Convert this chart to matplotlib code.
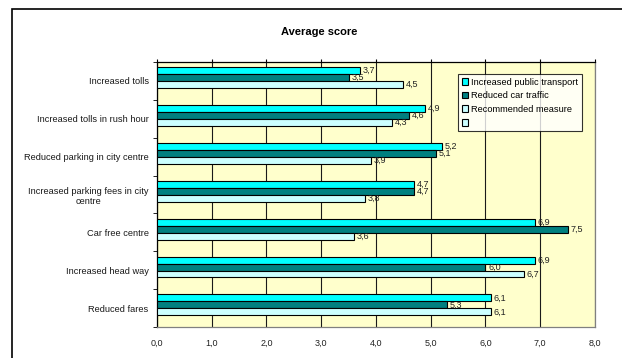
import matplotlib
matplotlib.use('Agg')
import matplotlib.pyplot as plt
from matplotlib.patches import Rectangle
from matplotlib.ticker import FixedLocator
import numpy as np

plt.rcParams['font.family'] = ['Liberation Sans', 'DejaVu Sans']

# data (top to bottom)
categories = ['Increased tolls', 'Increased tolls in rush hour',
              'Reduced parking in city centre',
              'Increased parking fees in city\ncentre',
              'Car free centre', 'Increased head way', 'Reduced fares']
public_transport = [3.7, 4.9, 5.2, 4.7, 6.9, 6.9, 6.1]
car_traffic = [3.5, 4.6, 5.1, 4.7, 7.5, 6.0, 5.3]
recommended = [4.5, 4.3, 3.9, 3.8, 3.6, 6.7, 6.1]
series_names = ['Increased public transport', 'Reduced car traffic',
                'Recommended measure', '']
series_colors = ['#00FFFF', '#008080', '#CCFFFF', '#CCFFFF']
x_ticks = np.arange(0, 9)

fig = plt.figure(figsize=(6.22, 3.58), dpi=100)
ax = fig.add_axes([157 / 622, 31 / 358, 438 / 622, 265 / 358])
ax.set_facecolor('#FFFFCC')

# outer chart frame (runs off the right and bottom edge)
fig.patches.append(Rectangle((12 / 622, -0.05), 1.0, 1 - 9 / 358 + 0.05,
                             transform=fig.transFigure, fill=False,
                             edgecolor='black', linewidth=1.2))

bar_h = 0.184
start = -0.5 + 0.14
pos = np.arange(len(categories))
all_series = [public_transport, car_traffic, recommended, [0] * len(categories)]
handles = []
for k, (vals, name, col) in enumerate(zip(all_series, series_names, series_colors)):
    y = pos + start + (k + 0.5) * bar_h
    if k < 3:
        ax.barh(y, vals, height=bar_h, color=col, edgecolor='black',
                linewidth=0.8, zorder=3)
        for yy, v in zip(y, vals):
            ax.annotate(f'{v:.1f}'.replace('.', ','), (v, yy),
                        xytext=(2, 0), textcoords='offset points',
                        va='center', ha='left', fontsize=6.5, color='#222222',
                        zorder=4)
    handles.append(Rectangle((0, 0), 1, 1, facecolor=col, edgecolor='black',
                             linewidth=0.8))

ax.set_xlim(0, 8)
ax.set_ylim(len(categories) - 0.5, -0.5)
ax.set_xticks(x_ticks)
ax.set_xticklabels([f'{t:.1f}'.replace('.', ',') for t in x_ticks], fontsize=6.5,
                   color='#222222')
ax.tick_params(axis='x', top=True, bottom=False, labeltop=False,
               labelbottom=True, direction='out', length=2.5, pad=6)
ax.xaxis.grid(True, color='#1a1a1a', linewidth=0.8, zorder=1)

ax.set_yticks(pos)
ax.set_yticklabels(categories, fontsize=6.7, color='#1a1a1a',
                   multialignment='center')
ax.tick_params(axis='y', which='major', length=0, pad=6)
ax.yaxis.set_minor_locator(FixedLocator(np.arange(-0.5, len(categories), 1.0)))
ax.tick_params(axis='y', which='minor', length=3, direction='out')

for side in ['top', 'left']:
    ax.spines[side].set_color('black')
    ax.spines[side].set_linewidth(0.9)
for side in ['bottom', 'right']:
    ax.spines[side].set_color('#808080')
    ax.spines[side].set_linewidth(0.9)

leg = ax.legend(handles, series_names, loc='upper left',
                bbox_to_anchor=(0.687, 0.955), fontsize=6.7, frameon=True,
                fancybox=False, handlelength=0.7, handleheight=0.7,
                handletextpad=0.3, borderpad=0.4, labelspacing=0.5,
                borderaxespad=0)
leg.get_frame().set_edgecolor('black')
leg.get_frame().set_linewidth(0.8)
leg.set_zorder(5)

fig.text(319 / 622, 1 - 32 / 358, 'Average score', ha='center', va='center',
         fontsize=8, fontweight='bold')

fig.savefig('out.png', dpi=100)
